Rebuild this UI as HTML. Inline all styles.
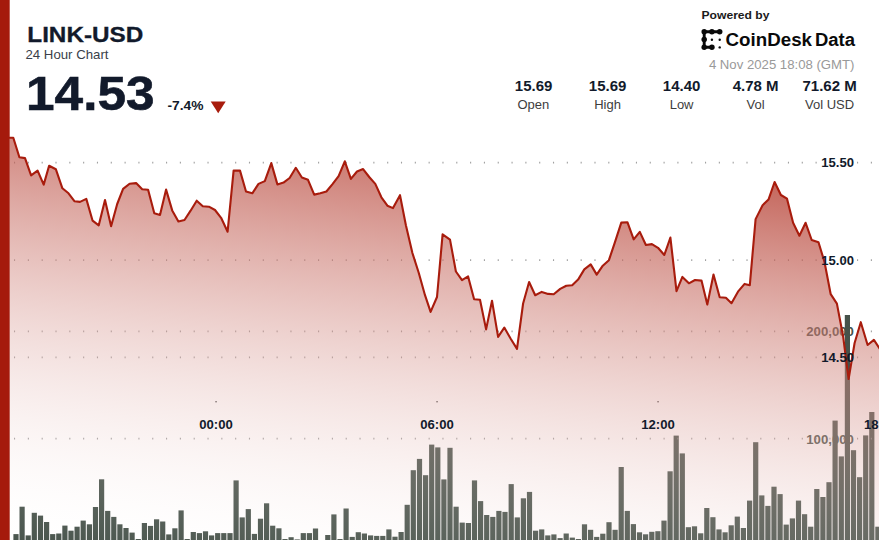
<!DOCTYPE html>
<html><head><meta charset="utf-8"><title>LINK-USD 24 Hour Chart</title>
<style>
html,body{margin:0;padding:0;background:#fff;}
body{width:879px;height:540px;overflow:hidden;font-family:"Liberation Sans",sans-serif;}
svg{display:block}
text{font-family:"Liberation Sans",sans-serif;}
.b{font-weight:bold}
</style></head><body>
<svg width="879" height="540" viewBox="0 0 879 540">
<defs>
<linearGradient id="g" gradientUnits="userSpaceOnUse" x1="0" y1="0" x2="-68.99" y2="543.24"><stop offset="0" stop-color="#a81c0d" stop-opacity="0.935"/><stop offset="1" stop-color="#ffffff" stop-opacity="0"/></linearGradient>
</defs>
<rect width="879" height="540" fill="#fff"/>
<g class="b" font-size="12.7" fill="#46524a">
<text x="806.2" y="336" textLength="47.8" lengthAdjust="spacingAndGlyphs">200,000</text>
<text x="806.2" y="443.5" textLength="47.8" lengthAdjust="spacingAndGlyphs">100,000</text>
</g>
<!-- volume bars -->
<g fill="#46524a"><rect x="13.4" y="534.1" width="5.2" height="6.9"/><rect x="19.5" y="506.7" width="5.2" height="34.3"/><rect x="25.6" y="535.4" width="5.2" height="5.6"/><rect x="31.7" y="512.8" width="5.2" height="28.2"/><rect x="37.9" y="515.6" width="5.2" height="25.4"/><rect x="44" y="522" width="5.2" height="19"/><rect x="50.1" y="534.1" width="5.2" height="6.9"/><rect x="56.2" y="533.5" width="5.2" height="7.5"/><rect x="62.3" y="525.6" width="5.2" height="15.4"/><rect x="68.4" y="530.7" width="5.2" height="10.3"/><rect x="74.5" y="526.7" width="5.2" height="14.3"/><rect x="80.6" y="520.6" width="5.2" height="20.4"/><rect x="86.8" y="524.3" width="5.2" height="16.7"/><rect x="92.9" y="507" width="5.2" height="34"/><rect x="99" y="479.3" width="5.2" height="61.7"/><rect x="105.1" y="510.9" width="5.2" height="30.1"/><rect x="111.2" y="516.9" width="5.2" height="24.1"/><rect x="117.3" y="524.3" width="5.2" height="16.7"/><rect x="123.4" y="528" width="5.2" height="13"/><rect x="129.5" y="532.6" width="5.2" height="8.4"/><rect x="135.7" y="539" width="5.2" height="2"/><rect x="141.8" y="523" width="5.2" height="18"/><rect x="147.9" y="525.9" width="5.2" height="15.1"/><rect x="154" y="519.3" width="5.2" height="21.7"/><rect x="160.1" y="521.5" width="5.2" height="19.5"/><rect x="166.2" y="534.4" width="5.2" height="6.6"/><rect x="172.3" y="528.3" width="5.2" height="12.7"/><rect x="178.5" y="510.4" width="5.2" height="30.6"/><rect x="184.6" y="539" width="5.2" height="2"/><rect x="190.7" y="532" width="5.2" height="9"/><rect x="196.8" y="533.1" width="5.2" height="7.9"/><rect x="202.9" y="531.3" width="5.2" height="9.7"/><rect x="209" y="535.4" width="5.2" height="5.6"/><rect x="215.1" y="533.1" width="5.2" height="7.9"/><rect x="221.2" y="533.1" width="5.2" height="7.9"/><rect x="227.4" y="533.1" width="5.2" height="7.9"/><rect x="233.5" y="480.4" width="5.2" height="60.6"/><rect x="239.6" y="517.4" width="5.2" height="23.6"/><rect x="245.7" y="509.1" width="5.2" height="31.9"/><rect x="251.8" y="533.9" width="5.2" height="7.1"/><rect x="257.9" y="518.7" width="5.2" height="22.3"/><rect x="264" y="503.3" width="5.2" height="37.7"/><rect x="270.1" y="525.7" width="5.2" height="15.3"/><rect x="276.3" y="528.3" width="5.2" height="12.7"/><rect x="282.4" y="539" width="5.2" height="2"/><rect x="288.5" y="537.2" width="5.2" height="3.8"/><rect x="294.6" y="539.4" width="5.2" height="1.6"/><rect x="300.7" y="533.1" width="5.2" height="7.9"/><rect x="306.8" y="533.1" width="5.2" height="7.9"/><rect x="312.9" y="528.5" width="5.2" height="12.5"/><rect x="325.2" y="535" width="5.2" height="6"/><rect x="331.3" y="514.4" width="5.2" height="26.6"/><rect x="337.4" y="539" width="5.2" height="2"/><rect x="343.5" y="508.5" width="5.2" height="32.5"/><rect x="349.6" y="536.9" width="5.2" height="4.1"/><rect x="355.7" y="532.2" width="5.2" height="8.8"/><rect x="361.8" y="533.5" width="5.2" height="7.5"/><rect x="368" y="535.4" width="5.2" height="5.6"/><rect x="374.1" y="535.9" width="5.2" height="5.1"/><rect x="380.2" y="535.9" width="5.2" height="5.1"/><rect x="386.3" y="529.4" width="5.2" height="11.6"/><rect x="392.4" y="536.7" width="5.2" height="4.3"/><rect x="398.5" y="532" width="5.2" height="9"/><rect x="404.6" y="504.8" width="5.2" height="36.2"/><rect x="410.7" y="470.2" width="5.2" height="70.8"/><rect x="416.9" y="458.9" width="5.2" height="82.1"/><rect x="423" y="475.2" width="5.2" height="65.8"/><rect x="429.1" y="444.6" width="5.2" height="96.4"/><rect x="435.2" y="447.4" width="5.2" height="93.6"/><rect x="441.3" y="479.4" width="5.2" height="61.6"/><rect x="447.4" y="447.8" width="5.2" height="93.2"/><rect x="453.5" y="506.7" width="5.2" height="34.3"/><rect x="459.6" y="522.6" width="5.2" height="18.4"/><rect x="465.8" y="523" width="5.2" height="18"/><rect x="471.9" y="480.4" width="5.2" height="60.6"/><rect x="478" y="501.1" width="5.2" height="39.9"/><rect x="484.1" y="515" width="5.2" height="26"/><rect x="490.2" y="516.9" width="5.2" height="24.1"/><rect x="496.3" y="510.9" width="5.2" height="30.1"/><rect x="502.4" y="511.9" width="5.2" height="29.1"/><rect x="508.6" y="484.1" width="5.2" height="56.9"/><rect x="514.7" y="517.4" width="5.2" height="23.6"/><rect x="520.8" y="498.3" width="5.2" height="42.7"/><rect x="526.9" y="491.9" width="5.2" height="49.1"/><rect x="533" y="530.7" width="5.2" height="10.3"/><rect x="539.1" y="529.4" width="5.2" height="11.6"/><rect x="545.2" y="535.4" width="5.2" height="5.6"/><rect x="551.3" y="534.4" width="5.2" height="6.6"/><rect x="557.5" y="538.1" width="5.2" height="2.9"/><rect x="563.6" y="533.5" width="5.2" height="7.5"/><rect x="569.7" y="537.6" width="5.2" height="3.4"/><rect x="575.8" y="539" width="5.2" height="2"/><rect x="581.9" y="524.3" width="5.2" height="16.7"/><rect x="588" y="529.8" width="5.2" height="11.2"/><rect x="594.1" y="536.9" width="5.2" height="4.1"/><rect x="600.2" y="533.7" width="5.2" height="7.3"/><rect x="606.4" y="522.2" width="5.2" height="18.8"/><rect x="612.5" y="529.8" width="5.2" height="11.2"/><rect x="618.6" y="467" width="5.2" height="74"/><rect x="624.7" y="510.9" width="5.2" height="30.1"/><rect x="630.8" y="524.1" width="5.2" height="16.9"/><rect x="636.9" y="532.3" width="5.2" height="8.7"/><rect x="643" y="534.3" width="5.2" height="6.7"/><rect x="649.2" y="531.8" width="5.2" height="9.2"/><rect x="655.3" y="531.2" width="5.2" height="9.8"/><rect x="661.4" y="520.6" width="5.2" height="20.4"/><rect x="667.5" y="471.3" width="5.2" height="69.7"/><rect x="673.6" y="435.6" width="5.2" height="105.4"/><rect x="679.7" y="453.4" width="5.2" height="87.6"/><rect x="685.8" y="527.2" width="5.2" height="13.8"/><rect x="691.9" y="526.3" width="5.2" height="14.7"/><rect x="698.1" y="533.3" width="5.2" height="7.7"/><rect x="704.2" y="508" width="5.2" height="33"/><rect x="710.3" y="517.2" width="5.2" height="23.8"/><rect x="716.4" y="529.4" width="5.2" height="11.6"/><rect x="722.5" y="532.3" width="5.2" height="8.7"/><rect x="728.6" y="525.3" width="5.2" height="15.7"/><rect x="734.7" y="516.6" width="5.2" height="24.4"/><rect x="740.8" y="528" width="5.2" height="13"/><rect x="747" y="500.6" width="5.2" height="40.4"/><rect x="753.1" y="442.2" width="5.2" height="98.8"/><rect x="759.2" y="495.4" width="5.2" height="45.6"/><rect x="765.3" y="505.9" width="5.2" height="35.1"/><rect x="771.4" y="486.7" width="5.2" height="54.3"/><rect x="777.5" y="494.1" width="5.2" height="46.9"/><rect x="783.6" y="524.6" width="5.2" height="16.4"/><rect x="789.8" y="518.4" width="5.2" height="22.6"/><rect x="795.9" y="500.6" width="5.2" height="40.4"/><rect x="802" y="514.2" width="5.2" height="26.8"/><rect x="808.1" y="526.7" width="5.2" height="14.3"/><rect x="814.2" y="489" width="5.2" height="52"/><rect x="820.3" y="497" width="5.2" height="44"/><rect x="826.4" y="482.2" width="5.2" height="58.8"/><rect x="832.5" y="420.6" width="5.2" height="120.4"/><rect x="838.7" y="456.4" width="5.2" height="84.6"/><rect x="844.8" y="315" width="5.2" height="226"/><rect x="850.9" y="450.2" width="5.2" height="90.8"/><rect x="857" y="477.2" width="5.2" height="63.8"/><rect x="863.1" y="435.4" width="5.2" height="105.6"/><rect x="869.2" y="412" width="5.2" height="129"/><rect x="875.3" y="526.7" width="5.2" height="14.3"/></g>
<!-- grid lines -->
<g stroke="#8a8a8a" stroke-width="1.8" stroke-dasharray="1.1 12.72" stroke-linecap="butt" opacity="0.8">
<line x1="14.0" y1="162.6" x2="879" y2="162.6"/><line x1="14.0" y1="260.1" x2="879" y2="260.1"/><line x1="14.0" y1="331.4" x2="879" y2="331.4"/><line x1="14.0" y1="357.3" x2="879" y2="357.3"/><line x1="14.0" y1="438.7" x2="879" y2="438.7"/>
</g>
<g fill="#444"><rect x="215.4" y="401" width="1.3" height="1.4"/><rect x="436.4" y="401" width="1.3" height="1.4"/><rect x="657.4" y="401" width="1.3" height="1.4"/></g>
<!-- area -->
<path d="M9.6,540 L9.6,137.8 L13.3,137.8 L19.4,157.2 L25,158.1 L31.1,175.4 L37.6,170.7 L43.7,184.6 L49.1,165.7 L55.9,169.3 L62.4,188.3 L68.5,193.3 L74.6,201.3 L80,201.9 L86.3,198.9 L92.6,220.7 L98.7,225.4 L105,200 L111.1,226.3 L117.2,204 L123.1,188.9 L129.6,183.7 L136.1,183.1 L142.2,189.3 L148.1,189.8 L154.3,213.3 L160,215 L166.1,189.6 L172.2,210.4 L178.4,221.5 L184.5,220 L190.6,210.7 L196.7,200.7 L202.8,206.3 L208.9,206.7 L215,210 L221.1,217.8 L227.6,231.7 L233.6,170.6 L240,170.6 L246,191.5 L252.3,193.3 L258.5,183.9 L264.8,181.1 L271.3,163.1 L277.4,184.4 L283.5,182.6 L289.6,178 L295.8,167.8 L301.9,177.5 L308,179.8 L314.2,194.6 L320.3,193.3 L326.4,191.5 L332.5,184.1 L338.6,176.1 L344.8,161.3 L350.9,178.9 L357,171.5 L363.1,169.1 L369.2,177 L375.3,183.9 L381.4,197.3 L387.4,205.7 L393,208.1 L400,195.2 L405.9,225.2 L412.4,253 L418.8,273 L425,295.2 L430.6,311.9 L437,297 L442.6,234.4 L450,239.6 L455.9,271.5 L462,280.2 L468.1,276.4 L474.1,299.3 L480,299.8 L486.1,329.4 L492,300.7 L498.1,336.9 L504.3,327.6 L510.7,338.7 L517,348.9 L523.1,303.5 L529.1,282 L535.2,295.2 L541.7,291.9 L548.1,293.9 L553.7,294.2 L560.2,288.9 L566.3,285.7 L572.2,285.2 L578.1,279.6 L584.3,269.4 L590.7,264.4 L596.7,274.6 L602.8,265.7 L608.9,260.2 L614.8,242.6 L621.3,222.6 L627.4,222.2 L633.7,239.3 L639.8,231.9 L645.9,245 L651.9,244.1 L658,247.8 L664.3,255 L670.4,237.6 L676.5,291.1 L682.4,276.9 L688.9,283.3 L695,280 L701.5,280.6 L707.3,304.6 L713.5,274.5 L719.7,297.3 L725.9,297.8 L731.5,303.2 L738.4,291.1 L744.6,283.9 L749.8,285.3 L755.6,219.1 L762.6,205.2 L768.5,199.6 L774.6,182 L780.9,195 L787,198.7 L793.1,222.8 L799.4,235.7 L805.6,222.8 L811.7,240 L818.5,242.2 L824.5,262 L830.7,294.2 L836.9,303.6 L843.2,336.8 L848.6,379 L854.6,343 L860.8,322.2 L867.6,345 L873.9,339.9 L880,349.2 L880,540 Z" fill="url(#g)"/>
<polyline points="9.6,137.8 13.3,137.8 19.4,157.2 25,158.1 31.1,175.4 37.6,170.7 43.7,184.6 49.1,165.7 55.9,169.3 62.4,188.3 68.5,193.3 74.6,201.3 80,201.9 86.3,198.9 92.6,220.7 98.7,225.4 105,200 111.1,226.3 117.2,204 123.1,188.9 129.6,183.7 136.1,183.1 142.2,189.3 148.1,189.8 154.3,213.3 160,215 166.1,189.6 172.2,210.4 178.4,221.5 184.5,220 190.6,210.7 196.7,200.7 202.8,206.3 208.9,206.7 215,210 221.1,217.8 227.6,231.7 233.6,170.6 240,170.6 246,191.5 252.3,193.3 258.5,183.9 264.8,181.1 271.3,163.1 277.4,184.4 283.5,182.6 289.6,178 295.8,167.8 301.9,177.5 308,179.8 314.2,194.6 320.3,193.3 326.4,191.5 332.5,184.1 338.6,176.1 344.8,161.3 350.9,178.9 357,171.5 363.1,169.1 369.2,177 375.3,183.9 381.4,197.3 387.4,205.7 393,208.1 400,195.2 405.9,225.2 412.4,253 418.8,273 425,295.2 430.6,311.9 437,297 442.6,234.4 450,239.6 455.9,271.5 462,280.2 468.1,276.4 474.1,299.3 480,299.8 486.1,329.4 492,300.7 498.1,336.9 504.3,327.6 510.7,338.7 517,348.9 523.1,303.5 529.1,282 535.2,295.2 541.7,291.9 548.1,293.9 553.7,294.2 560.2,288.9 566.3,285.7 572.2,285.2 578.1,279.6 584.3,269.4 590.7,264.4 596.7,274.6 602.8,265.7 608.9,260.2 614.8,242.6 621.3,222.6 627.4,222.2 633.7,239.3 639.8,231.9 645.9,245 651.9,244.1 658,247.8 664.3,255 670.4,237.6 676.5,291.1 682.4,276.9 688.9,283.3 695,280 701.5,280.6 707.3,304.6 713.5,274.5 719.7,297.3 725.9,297.8 731.5,303.2 738.4,291.1 744.6,283.9 749.8,285.3 755.6,219.1 762.6,205.2 768.5,199.6 774.6,182 780.9,195 787,198.7 793.1,222.8 799.4,235.7 805.6,222.8 811.7,240 818.5,242.2 824.5,262 830.7,294.2 836.9,303.6 843.2,336.8 848.6,379 854.6,343 860.8,322.2 867.6,345 873.9,339.9 880,349.2" fill="none" stroke="#a81c0d" stroke-width="2.1" stroke-linejoin="round" stroke-linecap="round"/>
<!-- left bar -->
<rect x="0" y="0" width="9.7" height="540" fill="#a51a0c"/>
<!-- axis labels -->
<g class="b" font-size="12.7" fill="#121a2b">
<text x="821.2" y="166.9" textLength="32.8" lengthAdjust="spacingAndGlyphs">15.50</text>
<text x="821.2" y="264.5" textLength="32.8" lengthAdjust="spacingAndGlyphs">15.00</text>
<text x="821.2" y="361.9" textLength="32.8" lengthAdjust="spacingAndGlyphs">14.50</text>
</g>
<g class="b" font-size="12.7" fill="#121a2b">
<text x="199.2" y="428.5" textLength="33.6" lengthAdjust="spacingAndGlyphs">00:00</text>
<text x="420.2" y="428.5" textLength="33.6" lengthAdjust="spacingAndGlyphs">06:00</text>
<text x="641.2" y="428.5" textLength="33.6" lengthAdjust="spacingAndGlyphs">12:00</text>
<text x="864.0" y="428.5" textLength="33.6" lengthAdjust="spacingAndGlyphs">18:00</text>
</g>
<!-- header left -->
<text class="b" x="27.3" y="42.2" font-size="21.5" fill="#121a2b" stroke="#121a2b" stroke-width="0.3" textLength="116" lengthAdjust="spacingAndGlyphs">LINK-USD</text>
<text x="25.5" y="59.2" font-size="13" fill="#3a3f4a" textLength="83" lengthAdjust="spacingAndGlyphs">24 Hour Chart</text>
<text class="b" x="26" y="110" font-size="47.7" fill="#121a2b" stroke="#121a2b" stroke-width="0.6" textLength="128.6" lengthAdjust="spacingAndGlyphs">14.53</text>
<text class="b" x="167.5" y="110" font-size="12" fill="#121a2b" textLength="36" lengthAdjust="spacingAndGlyphs">-7.4%</text>
<path d="M210.7,101.6 L225.7,101.6 L218.2,113.2 Z" fill="#a81c0d"/>
<!-- header right -->
<text class="b" x="701.5" y="18.6" font-size="11.3" fill="#1a1a1a" textLength="68" lengthAdjust="spacingAndGlyphs">Powered by</text>
<g fill="#0a0a0a" stroke="#0a0a0a">
<path d="M719.7,31.8 L704.2,31.8 L704.2,47.3 L711.9,47.3" fill="none" stroke-width="2.9" stroke-linecap="round" stroke-linejoin="round"/>
<g stroke="none">
<circle cx="704.2" cy="31.8" r="2.75"/><circle cx="711.9" cy="31.8" r="2.75"/><circle cx="719.7" cy="31.8" r="2.75"/>
<circle cx="704.2" cy="39.6" r="2.75"/><circle cx="704.2" cy="47.3" r="2.75"/><circle cx="711.9" cy="47.3" r="2.75"/>
<circle cx="711.9" cy="39.8" r="1.2"/><circle cx="719.7" cy="39.8" r="1.2"/><circle cx="719.7" cy="47.4" r="1.2"/>
</g></g>
<text class="b" x="725.6" y="46.3" font-size="19.1" fill="#0a0a0a" textLength="86.4" lengthAdjust="spacingAndGlyphs">CoinDesk</text><text class="b" x="815" y="46.3" font-size="19.1" fill="#0a0a0a" textLength="40" lengthAdjust="spacingAndGlyphs">Data</text>
<text x="708.9" y="69.2" font-size="13" fill="#999" textLength="145.6" lengthAdjust="spacingAndGlyphs">4 Nov 2025 18:08 (GMT)</text>
<g class="b" font-size="15" fill="#121a2b" text-anchor="middle">
<text x="533.6" y="90.6">15.69</text>
<text x="607.6" y="90.6">15.69</text>
<text x="681.6" y="90.6">14.40</text>
<text x="755.6" y="90.6">4.78 M</text>
<text x="829.6" y="90.6">71.62 M</text>
</g>
<g font-size="13" fill="#3d3d3d" text-anchor="middle">
<text x="533.4" y="109">Open</text>
<text x="607.6" y="109">High</text>
<text x="681.6" y="109">Low</text>
<text x="755.6" y="109">Vol</text>
<text x="829.6" y="109">Vol USD</text>
</g>
</svg>
</body></html>
